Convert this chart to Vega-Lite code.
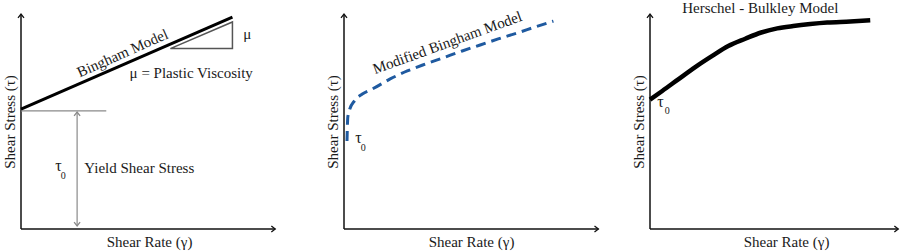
{
  "$schema": "https://vega.github.io/schema/vega-lite/v6.json",
  "background": "white",
  "padding": {"left": 2, "top": 0, "right": 0, "bottom": 2},
  "bounds": "flush",
  "spacing": 6,
  "resolve": {"scale": {"x": "independent", "y": "independent"}},
  "config": {
    "view": {"stroke": null},
    "axis": {"domain": false, "ticks": false, "labels": false, "grid": false, "titleFont": "Liberation Serif", "titleFontSize": 15, "titleFontWeight": "normal", "titleColor": "#1a1a1a"},
    "text": {"font": "Liberation Serif", "fontSize": 15, "color": "#1a1a1a"}
  },
  "datasets": {
    "p1_axes": [{"x": 0, "y": 0, "x2": 80.2, "y2": 0}, {"x": 0, "y": 0, "x2": 0, "y2": 100}],
    "p1_arrows": [
      {"x": 80.2, "y": 0, "dir": "right", "tone": "axis"},
      {"x": 0, "y": 100, "dir": "up", "tone": "axis"},
      {"x": 17.7, "y": 1.4, "dir": "down", "tone": "guide"},
      {"x": 17.7, "y": 54.4, "dir": "up", "tone": "guide"}
    ],
    "p1_guides": [{"x": 0, "y": 54.9, "x2": 26.9, "y2": 54.9}, {"x": 17.7, "y": 1.4, "x2": 17.7, "y2": 54.4}],
    "p1_tri": [{"i": 0, "x": 47.1, "y": 83.9}, {"i": 1, "x": 66.7, "y": 96.3}, {"i": 2, "x": 66.7, "y": 83.9}, {"i": 3, "x": 47.1, "y": 83.9}],
    "p1_bingham": [{"x": 0, "y": 55.8}, {"x": 66.7, "y": 98.6}],
    "p1_labels": [
      {"x": 32.0, "y": 81.8, "label": "Bingham Model", "kind": "rot"},
      {"x": 53.7, "y": 72.6, "label": "μ = Plastic Viscosity", "kind": "plain"},
      {"x": 71.4, "y": 90.7, "label": "μ", "kind": "plain"},
      {"x": 37.3, "y": 28.4, "label": "Yield Shear Stress", "kind": "plain"},
      {"x": 11.8, "y": 29.3, "label": "τ", "kind": "tau"},
      {"x": 13.3, "y": 24.7, "label": "0", "kind": "sub"}
    ],
    "p2_axes": [{"x": 0, "y": 0, "x2": 84.8, "y2": 0}, {"x": 0, "y": 0, "x2": 0, "y2": 100}],
    "p2_arrows": [{"x": 84.8, "y": 0, "dir": "right", "tone": "axis"}, {"x": 0, "y": 100, "dir": "up", "tone": "axis"}],
    "p2_curve": [
      {"x": 1.0, "y": 40.9}, {"x": 1.1, "y": 46.5}, {"x": 1.27, "y": 52.1}, {"x": 1.93, "y": 55.8},
      {"x": 3.43, "y": 59.5}, {"x": 6.1, "y": 62.8}, {"x": 9.43, "y": 65.1}, {"x": 15.4, "y": 69.8},
      {"x": 21.1, "y": 73.5}, {"x": 27.1, "y": 76.7}, {"x": 32.8, "y": 79.5}, {"x": 39.4, "y": 82.8},
      {"x": 45.4, "y": 85.6}, {"x": 51.4, "y": 88.4}, {"x": 57.8, "y": 91.2}, {"x": 63.8, "y": 94.0},
      {"x": 69.8, "y": 96.7}
    ],
    "p2_labels": [
      {"x": 34.4, "y": 86.7, "label": "Modified Bingham Model", "kind": "rot"},
      {"x": 4.8, "y": 42.3, "label": "τ", "kind": "tau"},
      {"x": 6.4, "y": 37.7, "label": "0", "kind": "sub"}
    ],
    "p3_axes": [{"x": 0, "y": 0, "x2": 99.3, "y2": 0}, {"x": 0, "y": 0, "x2": 0, "y2": 100}],
    "p3_arrows": [{"x": 99.3, "y": 0, "dir": "right", "tone": "axis"}, {"x": 0, "y": 100, "dir": "up", "tone": "axis"}],
    "p3_curve": [
      {"x": 0, "y": 60.2}, {"x": 4.9, "y": 64.2}, {"x": 11.3, "y": 69.6}, {"x": 18.1, "y": 75.3},
      {"x": 24.9, "y": 80.5}, {"x": 31.3, "y": 85.1}, {"x": 38.1, "y": 88.5}, {"x": 44.5, "y": 91.4},
      {"x": 50.9, "y": 93.3}, {"x": 57.3, "y": 94.4}, {"x": 64.1, "y": 95.3}, {"x": 70.9, "y": 96.0},
      {"x": 80.1, "y": 96.5}, {"x": 88.1, "y": 97.1}
    ],
    "p3_labels": [
      {"x": 44.1, "y": 102.8, "label": "Herschel - Bulkley Model", "kind": "title"},
      {"x": 4.2, "y": 59.1, "label": "τ", "kind": "tau"},
      {"x": 6.9, "y": 54.9, "label": "0", "kind": "sub"}
    ]
  },
  "hconcat": [
    {
      "width": 317, "height": 215,
      "encoding": {
        "x": {"field": "x", "type": "quantitative", "scale": {"domain": [0, 100], "nice": false, "zero": false}, "axis": {"title": "Shear Rate (γ)", "titlePadding": 5, "titleX": 128}},
        "y": {"field": "y", "type": "quantitative", "scale": {"domain": [0, 100], "nice": false, "zero": false}, "axis": {"title": "Shear Stress (τ)", "titlePadding": 4}}
      },
      "layer": [
        {"data": {"name": "p1_axes"}, "mark": {"type": "rule", "color": "#111", "strokeWidth": 1.5}, "encoding": {"x2": {"field": "x2"}, "y2": {"field": "y2"}}},
        {"data": {"name": "p1_guides"}, "mark": {"type": "rule", "color": "#8a8a8a", "strokeWidth": 1.2}, "encoding": {"x2": {"field": "x2"}, "y2": {"field": "y2"}}},
        {"data": {"name": "p1_arrows"}, "mark": {"type": "point", "filled": false, "strokeWidth": 1.3, "size": 36, "opacity": 1},
          "encoding": {
            "shape": {"field": "dir", "type": "nominal", "scale": {"domain": ["up", "right", "down"], "range": ["M-1,1.3L0,0L1,1.3", "M-1.3,-1L0,0L-1.3,1", "M-1,-1.3L0,0L1,-1.3"]}, "legend": null},
            "color": {"field": "tone", "type": "nominal", "scale": {"domain": ["axis", "guide"], "range": ["#111111", "#8a8a8a"]}, "legend": null}
          }},
        {"data": {"name": "p1_tri"}, "mark": {"type": "line", "color": "#555", "strokeWidth": 1.5}, "encoding": {"order": {"field": "i", "type": "quantitative"}}},
        {"data": {"name": "p1_bingham"}, "mark": {"type": "line", "color": "#000", "strokeWidth": 3}, "encoding": {}},
        {"data": {"name": "p1_labels"}, "transform": [{"filter": "datum.kind == 'plain'"}], "mark": {"type": "text", "align": "center", "baseline": "middle"}, "encoding": {"text": {"field": "label"}}},
        {"data": {"name": "p1_labels"}, "transform": [{"filter": "datum.kind == 'rot'"}], "mark": {"type": "text", "align": "center", "baseline": "middle", "angle": 336}, "encoding": {"text": {"field": "label"}}},
        {"data": {"name": "p1_labels"}, "transform": [{"filter": "datum.kind == 'tau'"}], "mark": {"type": "text", "align": "center", "baseline": "middle", "fontSize": 16}, "encoding": {"text": {"field": "label"}}},
        {"data": {"name": "p1_labels"}, "transform": [{"filter": "datum.kind == 'sub'"}], "mark": {"type": "text", "align": "center", "baseline": "middle", "fontSize": 10}, "encoding": {"text": {"field": "label"}}}
      ]
    },
    {
      "width": 300, "height": 215,
      "encoding": {
        "x": {"field": "x", "type": "quantitative", "scale": {"domain": [0, 100], "nice": false, "zero": false}, "axis": {"title": "Shear Rate (γ)", "titlePadding": 5, "titleX": 127}},
        "y": {"field": "y", "type": "quantitative", "scale": {"domain": [0, 100], "nice": false, "zero": false}, "axis": {"title": "Shear Stress (τ)", "titlePadding": 4}}
      },
      "layer": [
        {"data": {"name": "p2_axes"}, "mark": {"type": "rule", "color": "#111", "strokeWidth": 1.5}, "encoding": {"x2": {"field": "x2"}, "y2": {"field": "y2"}}},
        {"data": {"name": "p2_arrows"}, "mark": {"type": "point", "filled": false, "strokeWidth": 1.3, "size": 36, "opacity": 1},
          "encoding": {
            "shape": {"field": "dir", "type": "nominal", "scale": {"domain": ["up", "right", "down"], "range": ["M-1,1.3L0,0L1,1.3", "M-1.3,-1L0,0L-1.3,1", "M-1,-1.3L0,0L1,-1.3"]}, "legend": null},
            "color": {"field": "tone", "type": "nominal", "scale": {"domain": ["axis", "guide"], "range": ["#111111", "#8a8a8a"]}, "legend": null}
          }},
        {"data": {"name": "p2_curve"}, "mark": {"type": "line", "color": "#1f5aa0", "strokeWidth": 3, "strokeDash": [10, 6], "interpolate": "monotone"}, "encoding": {}},
        {"data": {"name": "p2_labels"}, "transform": [{"filter": "datum.kind == 'rot'"}], "mark": {"type": "text", "align": "center", "baseline": "middle", "angle": 340}, "encoding": {"text": {"field": "label"}}},
        {"data": {"name": "p2_labels"}, "transform": [{"filter": "datum.kind == 'tau'"}], "mark": {"type": "text", "align": "center", "baseline": "middle", "fontSize": 16}, "encoding": {"text": {"field": "label"}}},
        {"data": {"name": "p2_labels"}, "transform": [{"filter": "datum.kind == 'sub'"}], "mark": {"type": "text", "align": "center", "baseline": "middle", "fontSize": 10}, "encoding": {"text": {"field": "label"}}}
      ]
    },
    {
      "width": 250, "height": 215,
      "encoding": {
        "x": {"field": "x", "type": "quantitative", "scale": {"domain": [0, 100], "nice": false, "zero": false}, "axis": {"title": "Shear Rate (γ)", "titlePadding": 5, "titleX": 136}},
        "y": {"field": "y", "type": "quantitative", "scale": {"domain": [0, 100], "nice": false, "zero": false}, "axis": {"title": "Shear Stress (τ)", "titlePadding": 4}}
      },
      "layer": [
        {"data": {"name": "p3_axes"}, "mark": {"type": "rule", "color": "#111", "strokeWidth": 1.5}, "encoding": {"x2": {"field": "x2"}, "y2": {"field": "y2"}}},
        {"data": {"name": "p3_arrows"}, "mark": {"type": "point", "filled": false, "strokeWidth": 1.3, "size": 36, "opacity": 1},
          "encoding": {
            "shape": {"field": "dir", "type": "nominal", "scale": {"domain": ["up", "right", "down"], "range": ["M-1,1.3L0,0L1,1.3", "M-1.3,-1L0,0L-1.3,1", "M-1,-1.3L0,0L1,-1.3"]}, "legend": null},
            "color": {"field": "tone", "type": "nominal", "scale": {"domain": ["axis", "guide"], "range": ["#111111", "#8a8a8a"]}, "legend": null}
          }},
        {"data": {"name": "p3_curve"}, "mark": {"type": "line", "color": "#000", "strokeWidth": 4.5, "interpolate": "monotone"}, "encoding": {}},
        {"data": {"name": "p3_labels"}, "transform": [{"filter": "datum.kind == 'title'"}], "mark": {"type": "text", "align": "center", "baseline": "middle", "fontSize": 15}, "encoding": {"text": {"field": "label"}}},
        {"data": {"name": "p3_labels"}, "transform": [{"filter": "datum.kind == 'tau'"}], "mark": {"type": "text", "align": "center", "baseline": "middle", "fontSize": 16}, "encoding": {"text": {"field": "label"}}},
        {"data": {"name": "p3_labels"}, "transform": [{"filter": "datum.kind == 'sub'"}], "mark": {"type": "text", "align": "center", "baseline": "middle", "fontSize": 10}, "encoding": {"text": {"field": "label"}}}
      ]
    }
  ]
}
